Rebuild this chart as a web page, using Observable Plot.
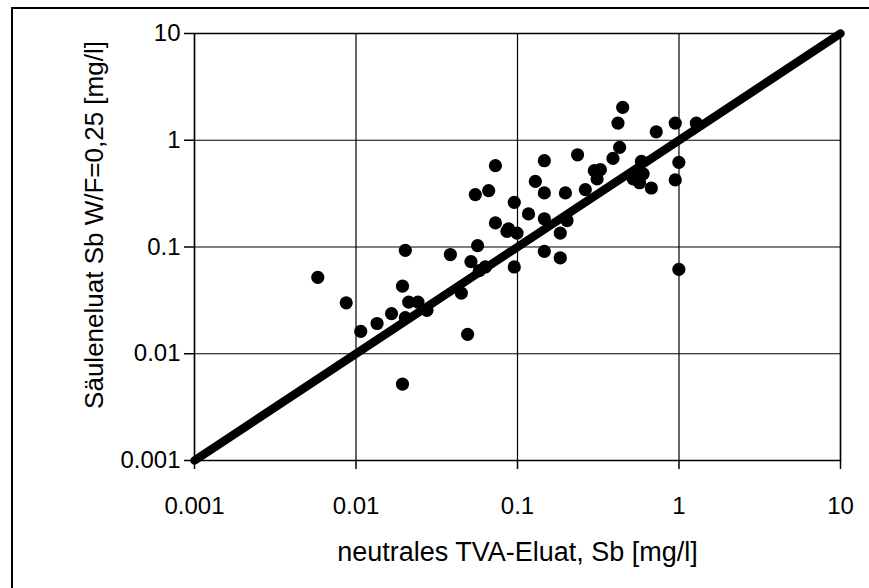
<!DOCTYPE html>
<html><head><meta charset="utf-8">
<script src="https://cdn.jsdelivr.net/npm/d3@7"></script>
<script src="https://cdn.jsdelivr.net/npm/@observablehq/plot@0.6"></script>
<style>
body{margin:0;background:#fff}
#c{position:relative;width:869px;height:588px;overflow:hidden;background:#fff}
#border{position:absolute;left:11px;top:7px;width:900px;height:700px;border-left:2px solid #000;border-top:2px solid #000}
#c svg{position:absolute;left:0;top:0}
</style>
</head><body><div id="c"><div id="border"></div></div>
<script>
const tvaEluat = [0.0058,0.0087,0.0107,0.0135,0.0166,0.0202,0.0194,0.0212,0.0242,0.0202,0.0275,0.0194,
  0.0384,0.0566,0.0515,0.0632,0.058,0.0449,0.0491,0.0955,0.086,0.0993,0.1466,0.184,0.184,
  0.073,0.0548,0.0663,0.0955,0.1466,0.2355,0.129,0.1466,0.198,0.263,0.299,0.311,0.117,0.073,0.088,
  0.1466,0.2026,0.998,0.448,0.419,0.723,0.948,1.28,0.429,0.39,0.326,0.585,0.55,0.52,0.6,0.57,0.674,0.998,0.948];
const saeulenEluat = [0.052,0.030,0.0162,0.0192,0.0238,0.093,0.043,0.0305,0.0305,0.0218,0.0255,0.0052,
  0.085,0.103,0.073,0.065,0.060,0.037,0.0152,0.065,0.140,0.135,0.091,0.079,0.135,
  0.578,0.31,0.337,0.262,0.643,0.731,0.412,0.321,0.321,0.345,0.519,0.434,0.204,0.168,0.148,
  0.184,0.177,0.0617,2.03,1.449,1.2,1.449,1.449,0.857,0.676,0.53,0.634,0.466,0.435,0.485,0.40,0.357,0.621,0.425];
const tickValues = [0.001,0.01,0.1,1,10];
const xTitle = "neutrales TVA-Eluat, Sb [mg/l]";
const yTitle = "Säuleneluat Sb W/F=0,25 [mg/l]";

const points = tvaEluat.map((x,i)=>({x, y: saeulenEluat[i]}));
const identity = [tickValues[0], tickValues[tickValues.length-1]].map(v=>({x:v,y:v}));

const chart = Plot.plot({
  width: 869, height: 588,
  marginLeft: 194, marginRight: 29, marginTop: 33, marginBottom: 128,
  style: {fontFamily: "'Liberation Sans', Arial, sans-serif", fontSize: "24px", color: "#000", background: "transparent"},
  x: {type: "log", domain: [0.001, 10]},
  y: {type: "log", domain: [0.001, 10]},
  marks: [
    Plot.gridX(tickValues, {stroke: "#000", strokeOpacity: 1, strokeWidth: 1.2}),
    Plot.gridY(tickValues, {stroke: "#000", strokeOpacity: 1, strokeWidth: 1.2}),
    Plot.frame({stroke: "#000", strokeWidth: 1.5}),
    Plot.axisX({ticks: tickValues, tickFormat: d => String(d), tickSize: 9, tickPadding: 27, label: null, fontSize: 24, strokeWidth: 1.5}),
    Plot.axisY({ticks: tickValues, tickFormat: d => String(d), tickSize: 10, tickPadding: 4, label: null, fontSize: 24, strokeWidth: 1.5}),
    Plot.line(identity, {x: "x", y: "y", stroke: "#000", strokeWidth: 8.5, strokeLinecap: "round"}),
    Plot.dot(points, {x: "x", y: "y", r: 6.6, fill: "#000", stroke: "none"}),
    Plot.text([xTitle], {text: d => d, frameAnchor: "bottom", dy: 92, fontSize: 27, lineAnchor: "middle"}),
    Plot.text([yTitle], {text: d => d, frameAnchor: "left", dx: -100, dy: -22, rotate: -90, fontSize: 26, textAnchor: "middle", lineAnchor: "middle"})
  ]
});
document.getElementById("c").appendChild(chart);
</script>
</body></html>
